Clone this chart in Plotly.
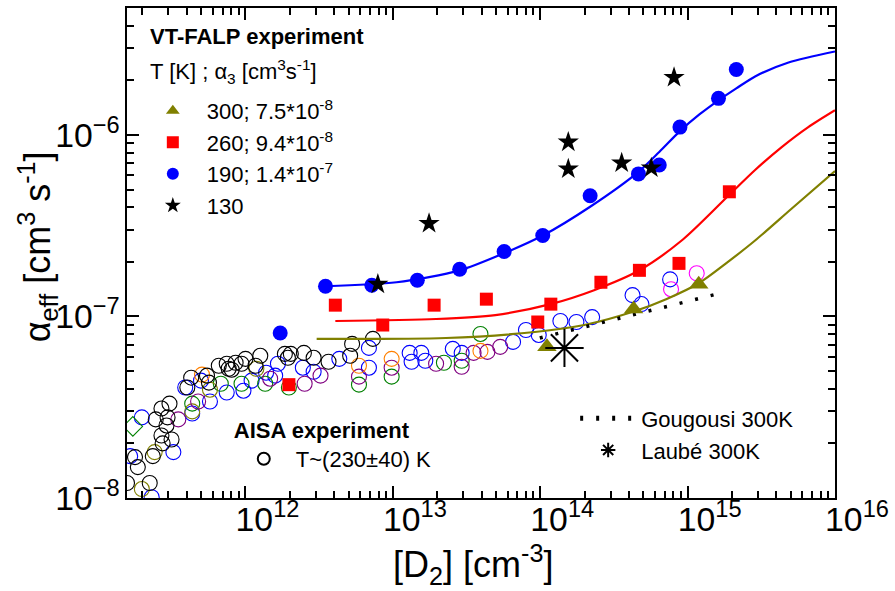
import plotly.graph_objects as go

FONT = "Liberation Sans, Arial, sans-serif"

# ---------------- VT-FALP experiment (filled symbols) ----------------
falp300_x = [1.11e14, 4.30e14, 1.19e15]
falp300_y = [6.80e-8, 1.10e-7, 1.505e-7]

falp260_x = [1.97e12, 4.07e12, 8.54e12, 1.905e13, 4.31e13, 9.62e13, 1.18e14, 2.58e14, 4.71e14, 8.74e14, 1.92e15]
falp260_y = [4.21e-8, 1.154e-7, 8.97e-8, 1.154e-7, 1.245e-7, 9.32e-8, 1.169e-7, 1.543e-7, 1.795e-7, 1.96e-7, 4.86e-7]

falp190_x = [1.72e12, 3.49e12, 7.20e12, 1.465e13, 2.84e13, 5.69e13, 1.04e14, 2.18e14, 4.64e14, 6.42e14, 8.87e14, 1.62e15, 2.14e15]
falp190_y = [8.11e-8, 1.467e-7, 1.486e-7, 1.582e-7, 1.818e-7, 2.28e-7, 2.79e-7, 4.62e-7, 6.10e-7, 6.83e-7, 1.104e-6, 1.59e-6, 2.29e-6]

falp130_x = [7.91e12, 1.76e13, 1.55e14, 1.55e14, 3.57e14, 5.67e14, 8.09e14]
falp130_y = [1.505e-7, 3.25e-7, 9.13e-7, 6.50e-7, 7.01e-7, 6.58e-7, 2.07e-6]

# ---------------- model curves ----------------
fit300_x = [3.04e12, 2.29e13, 9.19e13, 1.99e14, 4.30e14, 7.15e14, 1.19e15, 1.86e15, 2.87e15, 5.07e15, 1.0e16]
fit300_y = [7.52e-8, 7.61e-8, 8.21e-8, 8.97e-8, 1.064e-7, 1.245e-7, 1.524e-7, 1.986e-7, 2.62e-7, 3.92e-7, 6.33e-7]

fit260_x = [4.07e12, 1.965e13, 4.96e13, 1.176e14, 2.32e14, 4.71e14, 9.29e14, 1.92e15, 2.87e15, 4.35e15, 6.59e15, 1.0e16]
fit260_y = [9.44e-8, 9.68e-8, 1.018e-7, 1.169e-7, 1.395e-7, 1.795e-7, 2.654e-7, 4.68e-7, 6.41e-7, 8.57e-7, 1.104e-6, 1.367e-6]

fit190_x = [3.49e12, 1.06e13, 2.84e13, 5.44e13, 1.04e14, 2.18e14, 4.64e14, 6.42e14, 8.87e14, 1.208e15, 1.62e15, 2.14e15, 2.87e15, 4.84e15, 1.0e16]
fit190_y = [1.467e-7, 1.543e-7, 1.795e-7, 2.196e-7, 2.79e-7, 4.02e-7, 6.26e-7, 8.05e-7, 1.049e-6, 1.300e-6, 1.551e-6, 1.804e-6, 2.10e-6, 2.505e-6, 2.88e-6]

# ---------------- literature ----------------
gougousi_x = [9.93e13, 3.57e14, 1.67e15]
gougousi_y = [7.61e-8, 9.80e-8, 1.343e-7]

laube_x = [1.46e14]
laube_y = [6.71e-8]

# ---------------- AISA experiment (open symbols, by colour) ----------------
aisa_black_x = [1.57e11, 1.78e11, 1.86e11, 2.24e11, 2.35e11, 2.46e11, 2.69e11, 2.69e11, 2.74e11, 2.91e11,
                2.96e11, 3.05e11, 3.15e11, 4.03e11, 4.28e11, 5.48e11, 5.65e11, 6.59e11, 7.46e11, 7.69e11,
                8.06e11, 8.57e11, 9.40e11, 1.00e12, 1.17e12, 1.26e12, 1.85e12, 1.94e12, 2.03e12, 2.49e12,
                2.90e12, 3.66e12, 5.13e12, 5.29e12, 7.32e12]
aisa_black_y = [1.21e-8, 1.68e-8, 1.48e-8, 1.21e-8, 1.70e-8, 2.71e-8, 3.11e-8, 2.21e-8, 2.00e-8, 2.51e-8,
                2.78e-8, 3.31e-8, 2.10e-8, 4.06e-8, 4.60e-8, 4.72e-8, 4.32e-8, 5.35e-8, 5.49e-8, 5.15e-8,
                5.09e-8, 5.56e-8, 5.49e-8, 5.84e-8, 5.35e-8, 6.07e-8, 6.22e-8, 5.92e-8, 6.22e-8, 6.30e-8,
                5.92e-8, 5.63e-8, 6.07e-8, 7.06e-8, 7.52e-8]

aisa_blue_x = [1.65e11, 1.98e11, 2.31e11, 3.24e11, 3.90e11, 4.35e11, 4.99e11, 5.74e11, 7.46e11, 9.69e11,
               1.10e12, 1.38e12, 1.59e12, 1.66e12, 2.45e12, 2.90e12, 4.33e12, 6.88e12, 6.88e12, 1.30e13,
               1.34e13, 1.56e13, 1.66e13, 2.55e13, 2.93e13, 6.54e13, 8.0e13, 9.77e13, 1.37e14, 1.76e14,
               2.25e14, 4.23e14, 4.86e14, 7.61e14]
aisa_blue_y = [1.70e-8, 2.78e-8, 1.01e-8, 1.79e-8, 4.06e-8, 2.92e-8, 4.43e-8, 3.40e-8, 3.81e-8, 3.90e-8,
               4.43e-8, 4.90e-8, 4.72e-8, 5.49e-8, 5.22e-8, 4.96e-8, 5.84e-8, 6.71e-8, 5.22e-8, 6.30e-8,
               5.63e-8, 6.30e-8, 5.70e-8, 6.63e-8, 6.30e-8, 7.24e-8, 8.42e-8, 7.91e-8, 9.44e-8, 9.32e-8,
               9.92e-8, 1.31e-7, 1.17e-7, 1.60e-7]

aisa_green_x = [4.35e11, 6.80e11, 9.40e11, 1.36e12, 1.97e12, 5.89e12, 9.81e12, 2.22e13, 2.93e13, 3.93e13]
aisa_green_y = [3.31e-8, 4.26e-8, 4.26e-8, 4.26e-8, 4.06e-8, 4.21e-8, 4.66e-8, 5.56e-8, 5.70e-8, 8.01e-8]

aisa_diamond_x = [1.72e11]
aisa_diamond_y = [2.48e-8]

aisa_olive_x = [1.98e11, 2.42e11, 4.35e11, 5.74e11, 1.185e12]
aisa_olive_y = [1.12e-8, 1.79e-8, 3.00e-8, 3.95e-8, 5.15e-8]

aisa_purple_x = [3.50e11, 4.77e11, 1.47e12, 2.52e12, 3.23e12, 5.89e12, 9.81e12, 1.965e13, 2.93e13, 3.53e13, 4.38e13, 5.35e13]
aisa_purple_y = [2.71e-8, 3.40e-8, 4.54e-8, 4.26e-8, 4.72e-8, 4.66e-8, 5.22e-8, 5.49e-8, 5.28e-8, 6.30e-8, 6.38e-8, 6.80e-8]

aisa_orange_x = [5.07e11, 5.89e12, 9.81e12, 3.93e13]
aisa_orange_y = [4.78e-8, 5.35e-8, 5.84e-8, 6.46e-8]

aisa_magenta_x = [7.72e14, 1.153e15]
aisa_magenta_y = [1.413e-7, 1.729e-7]

# ---------------- text ----------------
falp_head = "<b>VT-FALP experiment</b>"
falp_sub = "T [K] ; α<sub>3</sub> [cm<sup>3</sup>s<sup>-1</sup>]"
name300 = "300; 7.5*10<sup>-8</sup>"
name260 = "260; 9.4*10<sup>-8</sup>"
name190 = "190; 1.4*10<sup>-7</sup>"
name130 = "130"
legend2_title = "<b>AISA experiment</b>"
name_aisa = "T~(230±40) K"
name_goug = "Gougousi 300K"
name_laube = "Laubé 300K"
x_title = "[D<sub>2</sub>] [cm<sup>-3</sup>]"
y_title = "α<sub>eff</sub> [cm<sup>3</sup> s<sup>-1</sup>]"

OLIVE = "rgb(128,128,0)"
RED = "rgb(255,0,0)"
BLUE = "rgb(0,0,255)"
GREEN = "rgb(0,128,0)"
PURPLE = "rgb(128,0,128)"
ORANGE = "rgb(255,128,0)"
MAGENTA = "rgb(255,0,255)"

fig = go.Figure()


def open_circles(x, y, color, symbol="circle-open"):
    fig.add_trace(go.Scatter(
        x=x, y=y, mode="markers", showlegend=False, hoverinfo="skip",
        marker=dict(symbol=symbol, size=15, color=color, line=dict(width=1.1, color=color))))


open_circles(aisa_blue_x, aisa_blue_y, BLUE)
open_circles(aisa_green_x, aisa_green_y, GREEN)
open_circles(aisa_diamond_x, aisa_diamond_y, GREEN, "diamond-open")
open_circles(aisa_olive_x, aisa_olive_y, OLIVE)
open_circles(aisa_purple_x, aisa_purple_y, PURPLE)
open_circles(aisa_orange_x, aisa_orange_y, ORANGE)
open_circles(aisa_magenta_x, aisa_magenta_y, MAGENTA)

fig.add_trace(go.Scatter(
    x=aisa_black_x, y=aisa_black_y, mode="markers", name=name_aisa, legend="legend2",
    marker=dict(symbol="circle-open", size=15, color="black", line=dict(width=1.1, color="black"))))

# model curves
for fx, fy, col in [(fit300_x, fit300_y, OLIVE), (fit260_x, fit260_y, RED), (fit190_x, fit190_y, BLUE)]:
    fig.add_trace(go.Scatter(x=fx, y=fy, mode="lines", showlegend=False, hoverinfo="skip",
                             line=dict(color=col, width=2.2, shape="spline", smoothing=0.8)))

# Gougousi
fig.add_trace(go.Scatter(x=gougousi_x, y=gougousi_y, mode="lines", name=name_goug, legend="legend3",
                         line=dict(color="black", width=3.5, dash="3px,13px")))

# VT-FALP filled markers
fig.add_trace(go.Scatter(x=falp300_x, y=falp300_y, mode="markers", name=name300, legend="legend",
                         marker=dict(symbol="triangle-up", size=17, color=OLIVE)))
fig.add_trace(go.Scatter(x=falp260_x, y=falp260_y, mode="markers", name=name260, legend="legend",
                         marker=dict(symbol="square", size=13, color=RED)))
fig.add_trace(go.Scatter(x=falp190_x, y=falp190_y, mode="markers", name=name190, legend="legend",
                         marker=dict(symbol="circle", size=15, color=BLUE)))
fig.add_trace(go.Scatter(x=falp130_x, y=falp130_y, mode="markers", name=name130, legend="legend",
                         marker=dict(symbol="star", size=16, color="black")))

# Laube
fig.add_trace(go.Scatter(x=laube_x, y=laube_y, mode="markers", name=name_laube, legend="legend3",
                         marker=dict(symbol="asterisk-open", size=32, color="black",
                                     line=dict(width=2, color="black"))))

axis_common = dict(
    type="log", showgrid=False, zeroline=False,
    showline=True, linecolor="black", linewidth=2, mirror="ticks",
    ticks="inside", ticklen=12, tickwidth=1.5, tickcolor="black",
    dtick=1, exponentformat="power",
    tickfont=dict(family=FONT, size=27, color="black"),
    minor=dict(ticks="inside", ticklen=7, tickwidth=1.5, tickcolor="black", dtick="D1", showgrid=False),
)

fig.update_layout(
    width=895, height=591,
    margin=dict(l=127, r=51, t=6, b=93),
    paper_bgcolor="white", plot_bgcolor="white",
    font=dict(family=FONT, size=22, color="black"),
    xaxis=dict(axis_common, range=[11.196, 16.0001], ticklabelshift=22, ticklabelstandoff=-8,
               ticklabeloverflow="allow"),
    yaxis=dict(axis_common, range=[-8, -5.301]),
    legend=dict(x=0.0167, y=0.833, xanchor="left", yanchor="top", bgcolor="rgba(0,0,0,0)",
                itemsizing="constant", itemwidth=58, font=dict(family=FONT, size=22)),
    legend2=dict(x=0.148, y=0.181, xanchor="left", yanchor="top", bgcolor="rgba(0,0,0,0)",
                 itemsizing="constant", itemwidth=54, font=dict(family=FONT, size=22),
                 title=dict(text=legend2_title, font=dict(family=FONT, size=22))),
    legend3=dict(x=0.633, y=0.205, xanchor="left", yanchor="top", bgcolor="rgba(0,0,0,0)",
                 itemsizing="constant", itemwidth=56, font=dict(family=FONT, size=22)),
    annotations=[
        dict(text=falp_head, xref="paper", yref="paper", x=0.0293, y=0.941, xanchor="left",
             yanchor="middle", showarrow=False, font=dict(family=FONT, size=22)),
        dict(text=falp_sub, xref="paper", yref="paper", x=0.0293, y=0.870, xanchor="left",
             yanchor="middle", showarrow=False, font=dict(family=FONT, size=22)),
        dict(text=x_title, xref="paper", yref="paper", x=0.488, y=-0.136, xanchor="center",
             yanchor="middle", showarrow=False, font=dict(family=FONT, size=36)),
        dict(text=y_title, xref="paper", yref="paper", x=-0.127, y=0.512, xanchor="center",
             yanchor="middle", textangle=-90, showarrow=False, font=dict(family=FONT, size=36)),
    ],
)

fig.write_html("out.html", post_script="document.body.style.margin='0px';",
               config={"displayModeBar": False})
